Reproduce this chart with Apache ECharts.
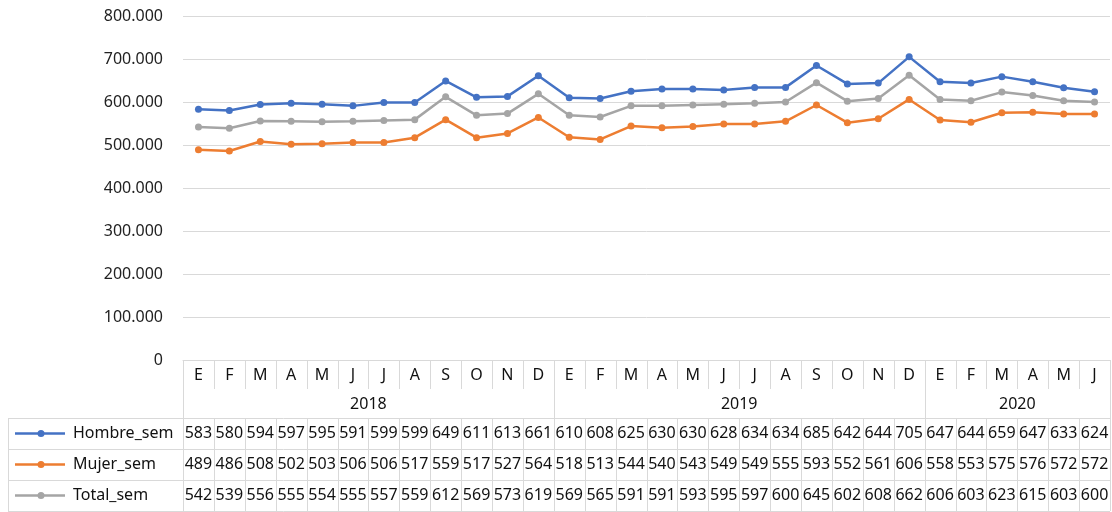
<!DOCTYPE html>
<html><head><meta charset="utf-8">
<script src="https://cdn.jsdelivr.net/npm/echarts@6/dist/echarts.min.js"></script>
<style>html,body{margin:0;padding:0;background:#fff}#c{width:1112px;height:512px}</style>
</head><body><div id="c"></div>
<script>
const months = ['E','F','M','A','M','J','J','A','S','O','N','D','E','F','M','A','M','J','J','A','S','O','N','D','E','F','M','A','M','J'];
const years = ['2018','2019','2020'];
const yearSpans = [12,12,6];
const seriesNames = ['Hombre_sem','Mujer_sem','Total_sem'];
const hombre = [583,580,594,597,595,591,599,599,649,611,613,661,610,608,625,630,630,628,634,634,685,642,644,705,647,644,659,647,633,624];
const mujer = [489,486,508,502,503,506,506,517,559,517,527,564,518,513,544,540,543,549,549,555,593,552,561,606,558,553,575,576,572,572];
const total = [542,539,556,555,554,555,557,559,612,569,573,619,569,565,591,591,593,595,597,600,645,602,608,662,606,603,623,615,603,600];
const yTicks = [0,100,200,300,400,500,600,700,800];
const colors = ['#4472C4','#ED7D31','#A5A5A5'];

(function(){
const FONT = 'Noto Sans';
const allData = [hombre, mujer, total];
const chart = echarts.init(document.getElementById('c'), null, {renderer:'canvas'});
chart.setOption({
  animation:false,
  grid:{left:183,right:2,top:16,bottom:152},
  xAxis:{type:'category',data:months,boundaryGap:true,
    axisLine:{lineStyle:{color:'#d9d9d9'}},axisTick:{show:false},axisLabel:{show:false}},
  yAxis:{type:'value',min:yTicks[0],max:yTicks[yTicks.length-1],interval:100,
    axisLine:{show:false},axisTick:{show:false},
    splitLine:{lineStyle:{color:'#d9d9d9',width:1}},
    axisLabel:{margin:20,color:'#222',fontFamily:FONT,fontSize:16,
      formatter:v=> v===0?'0':v+'.000'}},
  series: allData.map((d,i)=>({name:seriesNames[i],type:'line',data:d,
    symbol:'circle',symbolSize:7,color:colors[i],
    lineStyle:{width:2.5,color:colors[i]},itemStyle:{color:colors[i]}}))
});

const c0 = chart.convertToPixel({xAxisIndex:0},0);
const c1 = chart.convertToPixel({xAxisIndex:0},1);
const step = c1-c0;
const tLeft = c0-step/2;
const tRight = tLeft + step*months.length;
const tTop = chart.convertToPixel({yAxisIndex:0},0);
const yMonthEnd = tTop+29, yYearEnd = tTop+58;
const rowH = 31;
const tableLeft = 8;
const lc = '#d9d9d9';
const g = [];
function line(x1,y1,x2,y2){g.push({type:'line',silent:true,shape:{x1,y1,x2,y2},style:{stroke:lc,lineWidth:1}});}
function text(x,y,t,align){g.push({type:'text',silent:true,x,y,style:{text:t,fill:'#111',font:'16px "'+FONT+'"',align:align||'center',verticalAlign:'middle'}});}
for(let i=0;i<=months.length;i++){const x=Math.round(tLeft+i*step)+0.5; line(x,tTop,x,yMonthEnd);}
months.forEach((m,i)=>text(tLeft+(i+0.5)*step, tTop+15, m));
let acc=0;
line(Math.round(tLeft)+0.5,tTop,Math.round(tLeft)+0.5,yYearEnd);
years.forEach((y,k)=>{const s=acc; acc+=yearSpans[k];
  const x=Math.round(tLeft+acc*step)+0.5; line(x,tTop,x,yYearEnd);
  text(tLeft+(s+acc)/2*step, tTop+44, y);});
const rowsTop = yYearEnd;
for(let r=0;r<=3;r++){const y=Math.round(rowsTop+r*rowH)+0.5; line(tableLeft,y,tRight,y);}
const rowsBottom = rowsTop+3*rowH;
line(tableLeft+0.5,rowsTop,tableLeft+0.5,rowsBottom);
for(let i=0;i<=months.length;i++){const x=Math.round(tLeft+i*step)+0.5; line(x,rowsTop,x,rowsBottom);}
allData.forEach((d,r)=>{
  const cy = rowsTop+(r+0.5)*rowH;
  g.push({type:'line',silent:true,shape:{x1:15,y1:cy,x2:65,y2:cy},style:{stroke:colors[r],lineWidth:2.5}});
  g.push({type:'circle',silent:true,shape:{cx:41,cy,r:3.5},style:{fill:colors[r]}});
  text(73,cy,seriesNames[r],'left');
  d.forEach((v,i)=>text(tLeft+(i+0.5)*step, cy, String(v)));
});
chart.setOption({graphic:g});
})();
</script></body></html>
